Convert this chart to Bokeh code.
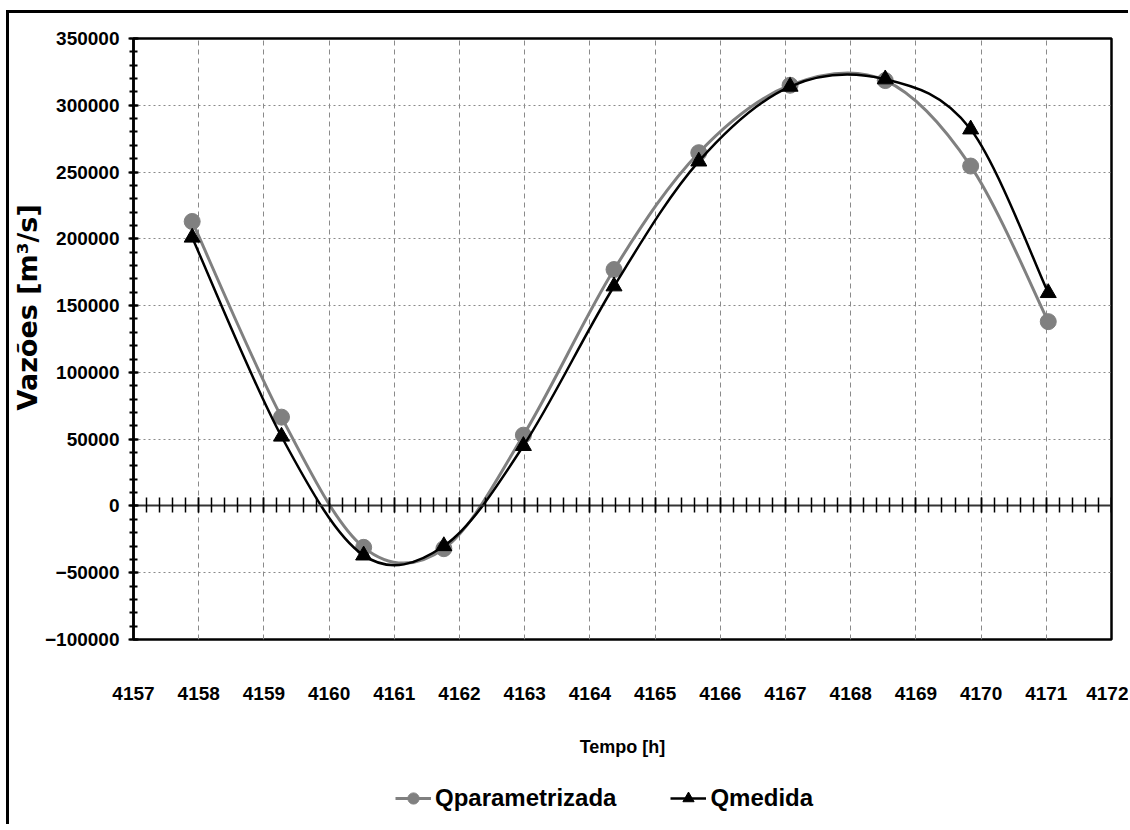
from bokeh.plotting import figure
from bokeh.layouts import column
from bokeh.models import (Range1d, LinearAxis, SingleIntervalTicker, BasicTickFormatter,
                          Legend, LegendItem, Title, ColumnDataSource)
from bokeh.embed import file_html
from bokeh.resources import INLINE

# ---- data ----
tempo = [4157.90, 4159.27, 4160.53, 4161.76, 4162.98, 4164.37, 4165.67, 4167.07, 4168.53, 4169.84, 4171.03]
q_parametrizada = [213000, 66500, -31000, -32000, 53000, 177000, 264500, 315000, 318500, 254500, 138000]
q_medida = [201000, 52000, -37000, -30000, 45000, 164500, 258000, 314000, 319500, 282000, 159500]

series_names = ["Qparametrizada", "Qmedida"]
x_title = "Tempo [h]"
y_title = "Vazões [m³/s]"

FONT = "Liberation Sans"
GRAY = "#808080"


def bezier_source(xs, ys):
    """Catmull-Rom style smoothing expressed as cubic Bezier control points."""
    n = len(xs)
    d = dict(x0=[], y0=[], x1=[], y1=[], cx0=[], cy0=[], cx1=[], cy1=[])
    for i in range(n - 1):
        xp, yp = (xs[i - 1], ys[i - 1]) if i > 0 else (xs[i], ys[i])
        xn2, yn2 = (xs[i + 2], ys[i + 2]) if i + 2 < n else (xs[i + 1], ys[i + 1])
        d["x0"].append(xs[i]); d["y0"].append(ys[i])
        d["x1"].append(xs[i + 1]); d["y1"].append(ys[i + 1])
        d["cx0"].append(xs[i] + (xs[i + 1] - xp) / 6.0)
        d["cy0"].append(ys[i] + (ys[i + 1] - yp) / 6.0)
        d["cx1"].append(xs[i + 1] - (xn2 - xs[i]) / 6.0)
        d["cy1"].append(ys[i + 1] - (yn2 - ys[i]) / 6.0)
    return ColumnDataSource(d)


def draw_series(fig):
    bp = fig.bezier(x0="x0", y0="y0", x1="x1", y1="y1", cx0="cx0", cy0="cy0", cx1="cx1", cy1="cy1",
                    source=bezier_source(tempo, q_parametrizada), line_color=GRAY, line_width=3)
    sp = fig.scatter(tempo, q_parametrizada, marker="circle", size=16,
                     fill_color=GRAY, line_color=GRAY)
    bm = fig.bezier(x0="x0", y0="y0", x1="x1", y1="y1", cx0="cx0", cy0="cy0", cx1="cx1", cy1="cy1",
                    source=bezier_source(tempo, q_medida), line_color="black", line_width=2.5)
    sm = fig.scatter(tempo, q_medida, marker="triangle", size=16,
                     fill_color="black", line_color="black")
    return bp, sp, bm, sm


p = figure(frame_width=978, frame_height=601, output_backend="svg", toolbar_location=None,
           x_range=Range1d(4157, 4172), y_range=Range1d(-100000, 350000),
           min_border_left=124, min_border_right=17, min_border_top=25, min_border_bottom=141,
           background_fill_color="white", border_fill_color="white")

p.outline_line_color = "black"
p.outline_line_width = 2.5

xt = SingleIntervalTicker(interval=1, num_minor_ticks=5)
yt = SingleIntervalTicker(interval=50000, num_minor_ticks=5)

# x axis below: labels and title only
xa = p.xaxis[0]
xa.ticker = xt
xa.axis_line_color = None
xa.major_tick_line_color = None
xa.minor_tick_line_color = None
xa.major_label_standoff = 41
xa.major_label_text_font = FONT
xa.major_label_text_font_style = "bold"
xa.major_label_text_font_size = "19px"
xa.major_label_text_color = "black"
xa.axis_label = x_title
xa.axis_label_text_font = FONT
xa.axis_label_text_font_style = "bold"
xa.axis_label_text_font_size = "18px"
xa.axis_label_standoff = 34
xa.axis_label_text_color = "black"

# y axis
ya = p.yaxis[0]
ya.ticker = yt
ya.formatter = BasicTickFormatter(use_scientific=False)
ya.axis_line_color = "black"
ya.axis_line_width = 2.5
ya.major_tick_in = 5
ya.major_tick_out = 5
ya.major_tick_line_width = 2
ya.minor_tick_in = 4
ya.minor_tick_out = 4
ya.minor_tick_line_width = 2
ya.major_label_standoff = 9
ya.major_label_text_font = FONT
ya.major_label_text_font_style = "bold"
ya.major_label_text_font_size = "19px"
ya.major_label_text_color = "black"

# axis line through zero with crossing ticks (no labels)
zero_axis = LinearAxis(fixed_location=0, ticker=xt,
                       axis_line_color="#333333", axis_line_width=2,
                       major_tick_in=7, major_tick_out=8, major_tick_line_width=1.5,
                       minor_tick_in=7, minor_tick_out=8, minor_tick_line_width=1.5,
                       major_tick_line_color="black", minor_tick_line_color="black",
                       major_label_text_color=None, major_label_standoff=0)
p.add_layout(zero_axis, "above")

# grid
p.xgrid.ticker = xt
p.ygrid.ticker = yt
p.xgrid.grid_line_color = "#8a8a8a"
p.xgrid.grid_line_dash = "5 4"
p.xgrid.grid_line_width = 1
p.ygrid.grid_line_color = "#8a8a8a"
p.ygrid.grid_line_dash = "2 3"
p.ygrid.grid_line_width = 1.2

# y title placed like the reference (above the frame's centre)
yt_title = Title(text=y_title, align="left", offset=229, standoff=0,
                 text_font="DejaVu Sans", text_font_style="bold",
                 text_font_size="27px", text_color="black")
p.add_layout(yt_title, "left")

draw_series(p)

# ---- legend strip below the chart (same series, nothing visible in its frame) ----
lf = figure(frame_width=978, frame_height=44, output_backend="svg", toolbar_location=None,
            x_range=Range1d(0, 1), y_range=Range1d(0, 1),
            x_axis_type=None, y_axis_type=None,
            min_border_left=124, min_border_right=17, min_border_top=0, min_border_bottom=0,
            background_fill_color="white", border_fill_color="white")
lf.outline_line_color = None
lf.grid.visible = False
lbp, lsp, lbm, lsm = draw_series(lf)

legend = Legend(items=[LegendItem(label=series_names[0], renderers=[lbp, lsp]),
                       LegendItem(label=series_names[1], renderers=[lbm, lsm])],
                orientation="horizontal", location=(262, 12),
                label_text_font=FONT, label_text_font_style="bold",
                label_text_font_size="24px", label_text_color="black",
                glyph_width=36, glyph_height=28, label_standoff=4, spacing=54,
                padding=0, margin=0, border_line_color=None, background_fill_alpha=0)
lf.add_layout(legend, "center")

layout = column(p, lf, spacing=0,
                styles={"margin-left": "6px", "margin-top": "10px",
                        "border-left": "3px solid black", "border-top": "3px solid black"})

open("out.html", "w").write(file_html(layout, INLINE))
